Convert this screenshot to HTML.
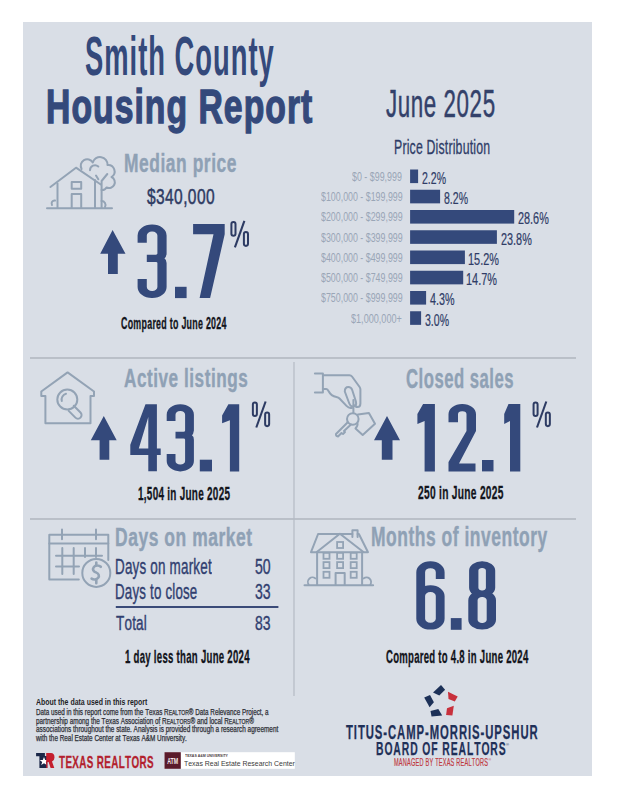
<!DOCTYPE html>
<html><head><meta charset="utf-8"><style>
html,body{margin:0;padding:0}
body{width:618px;height:800px;position:relative;overflow:hidden;background:#fff;font-family:"Liberation Sans",sans-serif}
#panel{position:absolute;left:23px;top:22px;width:569px;height:754px;background:#d9dee6}
.t{position:absolute;white-space:nowrap;transform-origin:0 0;font-kerning:none}
</style></head>
<body>
<div id="panel"></div>
<svg id="shapes" width="618" height="800" viewBox="0 0 618 800" style="position:absolute;left:0;top:0">
<g fill="none" stroke="#9ba1aa" stroke-width="1">
<line x1="30" y1="358" x2="576" y2="358"/>
<line x1="30" y1="519" x2="576" y2="519"/>
</g>
<line x1="294" y1="362" x2="294" y2="696" stroke="#b4bac4" stroke-width="1.2"/>
<!-- bars -->
<g fill="#34497b" id="bars">
<rect x="410.1" y="169.50" width="8" height="13.6"/>
<rect x="410.1" y="189.75" width="30" height="13.6"/>
<rect x="410.1" y="210.00" width="104.1" height="13.6"/>
<rect x="410.1" y="230.25" width="86.8" height="13.6"/>
<rect x="410.1" y="250.50" width="54.8" height="13.6"/>
<rect x="410.1" y="270.75" width="53.1" height="13.6"/>
<rect x="410.1" y="291.00" width="16" height="13.6"/>
<rect x="410.1" y="311.25" width="11" height="13.6"/>
</g>
<!-- arrows -->
<polygon points="112.6,230 125.5,253.8 117.8,253.8 117.8,274 108,274 108,253.8 100.2,253.8" fill="#34497b"/>
<polygon points="103.8,416 116.7,440.3 109.3,440.3 109.3,459.7 99.6,459.7 99.6,440.3 90.8,440.3" fill="#34497b"/>
<polygon points="387,416 400,440.3 392.5,440.3 392.5,459.7 381.8,459.7 381.8,440.3 374,440.3" fill="#34497b"/>
<g transform="matrix(1 0 0 0.7800 0 49.368)"><path d="M142.20 248.02 V238.70 A9.702000000000005 9.702000000000005 0 0 1 151.90 229.00 H152.30 A9.702000000000005 9.702000000000005 0 0 1 162.00 238.70 V261.86 A6 6 0 0 1 156.00 267.86 H146.80 M156.00 267.86 A6 6 0 0 1 162.00 273.86 V304.59 A9.702000000000005 9.702000000000005 0 0 1 152.30 314.29 H151.90 A9.702000000000005 9.702000000000005 0 0 1 142.20 304.59 V294.32" fill="none" stroke="#34497b" stroke-width="9.2"/></g>
<rect x="175.00" y="286.80" width="11.60" height="11.30" fill="#34497b"/>
<polygon points="193.10,224.10 224.70,224.10 224.70,234.30 210.10,298.10 199.60,298.10 213.50,234.30 193.10,234.30" fill="#34497b"/>
<rect x="231.40" y="221.90" width="4.10" height="13.80" rx="2.05" ry="2.05" fill="none" stroke="#2d3b63" stroke-width="2.0"/><rect x="243.90" y="232.10" width="4.10" height="13.80" rx="2.05" ry="2.05" fill="none" stroke="#2d3b63" stroke-width="2.0"/><line x1="244.40" y1="220.80" x2="234.90" y2="247.30" stroke="#2d3b63" stroke-width="2.1"/>
<path d="M145.50 404.30 L156.90 404.30 L156.90 448.50 L160.70 448.50 L160.70 455.10 L156.90 455.10 L156.90 471.30 L148.30 471.30 L148.30 455.10 L130.30 455.10 L130.30 444.70 Z M148.30 417.10 L148.30 448.50 L138.80 448.50 Z" fill="#34497b" fill-rule="evenodd"/>
<g transform="matrix(1 0 0 0.7800 0 88.924)"><path d="M171.10 425.74 V417.62 A9.016000000000002 9.016000000000002 0 0 1 180.12 408.60 H180.48 A9.016000000000002 9.016000000000002 0 0 1 189.50 417.62 V437.83 A6 6 0 0 1 183.50 443.83 H175.50 M183.50 443.83 A6 6 0 0 1 189.50 449.83 V476.94 A9.016000000000002 9.016000000000002 0 0 1 180.48 485.95 H180.12 A9.016000000000002 9.016000000000002 0 0 1 171.10 476.94 V467.95" fill="none" stroke="#34497b" stroke-width="8.8"/></g>
<rect x="199.80" y="459.70" width="12.20" height="11.70" fill="#34497b"/>
<polygon points="228.40,404.20 239.20,404.20 239.20,471.40 229.90,471.40 229.90,420.20 222.10,423.20 222.10,415.50" fill="#34497b"/>
<rect x="252.87" y="402.58" width="4.02" height="13.54" rx="2.01" ry="2.01" fill="none" stroke="#2d3b63" stroke-width="2.0"/><rect x="265.13" y="412.59" width="4.02" height="13.54" rx="2.01" ry="2.01" fill="none" stroke="#2d3b63" stroke-width="2.0"/><line x1="265.62" y1="401.50" x2="256.30" y2="427.50" stroke="#2d3b63" stroke-width="2.1"/>
<polygon points="423.10,404.00 434.90,404.00 434.90,471.40 424.60,471.40 424.60,421.00 417.40,424.00 417.40,414.00" fill="#34497b"/>
<g transform="matrix(1 0 0 0.7500 0 101.000)"><path d="M453.25 428.26 V417.57 A8.82 8.82 0 0 1 462.07 408.75 H462.43 A8.82 8.82 0 0 1 471.25 417.57 V439.95" fill="none" stroke="#34497b" stroke-width="9.5"/></g><polygon points="476.00,430.96 459.00,463.40 475.50,463.40 475.50,471.40 448.50,471.40 448.50,461.90 466.50,430.96" fill="#34497b"/>
<rect x="482.00" y="460.00" width="11.50" height="11.40" fill="#34497b"/>
<polygon points="508.50,404.00 520.30,404.00 520.30,471.40 510.00,471.40 510.00,421.00 504.20,424.00 504.20,414.00" fill="#34497b"/>
<rect x="533.57" y="402.58" width="4.02" height="13.54" rx="2.01" ry="2.01" fill="none" stroke="#2d3b63" stroke-width="2.0"/><rect x="545.83" y="412.59" width="4.02" height="13.54" rx="2.01" ry="2.01" fill="none" stroke="#2d3b63" stroke-width="2.0"/><line x1="546.32" y1="401.50" x2="537.00" y2="427.50" stroke="#2d3b63" stroke-width="2.1"/>
<g transform="matrix(1 0 0 0.7800 0 123.486)"><path d="M440.20 584.07 V575.25 A9.555000000000028 9.555000000000028 0 0 0 430.65 565.70 H430.25 A9.555000000000028 9.555000000000028 0 0 0 420.70 575.25 V634.91 A9.555000000000028 9.555000000000028 0 0 0 430.25 644.46 H430.65 A9.555000000000028 9.555000000000028 0 0 0 440.20 634.91 V605.88 A9.555000000000028 9.555000000000028 0 0 0 430.65 596.33 H430.25 A9.555000000000028 9.555000000000028 0 0 0 420.70 605.88" fill="none" stroke="#34497b" stroke-width="8.8"/></g>
<rect x="450.80" y="618.10" width="10.80" height="11.70" fill="#34497b"/>
<g transform="matrix(1 0 0 0.7200 0 157.164)"><path d="M473.75 574.17 A8.216000000000015 8.216000000000015 0 0 1 481.97 565.95 H482.33 A8.216000000000015 8.216000000000015 0 0 1 490.55 574.17 V598.14 A8.216000000000015 8.216000000000015 0 0 1 482.33 606.36 H481.97 A8.216000000000015 8.216000000000015 0 0 1 473.75 598.14 Z M472.95 615.38 A9.016000000000016 9.016000000000016 0 0 1 481.97 606.36 H482.33 A9.016000000000016 9.016000000000016 0 0 1 491.35 615.38 V642.50 A9.016000000000016 9.016000000000016 0 0 1 482.33 651.51 H481.97 A9.016000000000016 9.016000000000016 0 0 1 472.95 642.50 Z" fill="none" stroke="#34497b" stroke-width="9.3"/></g>
<!-- table line -->
<rect x="115.8" y="606" width="162.6" height="2" fill="#3a4a78"/>
<g fill="none" stroke="#93a3b5" stroke-width="2" stroke-linecap="round" stroke-linejoin="round">
<!-- house + tree -->
<path d="M47 208.2 H112"/>
<path d="M50.4 187 L76 167.7 L100.8 184.5"/>
<path d="M57.5 183.5 V208 M95 180 V208"/>
<rect x="71.7" y="181.9" width="9.5" height="6.9"/>
<path d="M71.7 208 V194 H81.2 V208"/>
<path d="M81.6 169 A6 6 0 0 1 92.8 162.5 A7.5 7.5 0 0 1 107.5 165 A6.5 6.5 0 0 1 111.5 177 A5.5 5.5 0 0 1 106.5 187.5 A5 5 0 0 1 101.5 190"/>
<path d="M90 170.3 A5 5 0 0 1 98.3 166.5"/>
<path d="M101.6 208 V181 L107.3 174 M96 175.5 L98.3 179.3"/>
<path d="M52 205 A3 3 0 0 1 55 200.5 M101.5 201 A4 4 0 0 1 105 207"/>
<!-- house search -->
<path d="M45.4 423.3 V396 H41.3 V391.5 L67.6 372.4 L94 391.5 V396 H90.5 V423.3 Z"/>
<circle cx="67.3" cy="399.5" r="10"/>
<path d="M61.8 401 A6 6 0 0 1 66 393.8"/>
<path d="M73.8 405.8 L80.5 412.5 A3.6 3.6 0 0 1 75.4 417.6 L68.7 410.9"/>
<!-- hand keys -->
<path d="M314.9 373.5 H322.9 V392.4 H314.9"/>
<path d="M322.9 375.2 H349.5 Q351 375.2 352 376.5 L359.6 387 Q360.4 388.2 360.4 389.5 V403.5 Q360.4 407 357.5 407 Q355.5 407 355.2 405"/>
<path d="M322.9 389 H326.3 Q327.5 389 328.8 391.5 Q331 396 336.4 397 Q338.5 397.4 339.5 398.5 L346.5 405.9 Q348.5 408 350.5 408 H352"/>
<path d="M344.8 391.5 Q344.8 387 348.3 387 Q351.2 387 352.2 390 L355.9 401.5 Q357 406 353 406.5 Q350.6 406.8 349.3 403.5 Z"/>
<path d="M353.4 400 V413"/>
<circle cx="352.8" cy="419" r="5.8"/>
<path d="M347.5 422.5 L336 434 Q335.5 436 338 436.5 L341.5 433 L343 434 L345 432 L344 431 L351 424.5"/>
<path d="M358 414.5 L368.9 413 L375 423.8 L362.7 435 L355.5 428.5 Q358 425.5 357.5 423.5"/>
<!-- calendar -->
<path d="M78.8 579.4 H49.3 V534.7 H108.3 V560"/>
<path d="M49.3 543.4 H108.3"/>
<path d="M62 529.5 V539.2 M96 529.5 V539.2"/>
<path d="M56 555.8 H102 M56 566.4 H79"/>
<path d="M62.3 548 V574 M73.7 548 V574 M85 548 V557 M96 548 V557"/>
<circle cx="96.3" cy="572.9" r="14"/>
<path d="M100.8 566.8 A4.4 3.6 0 1 0 96.3 572.6 A4.4 3.6 0 1 1 91.6 578.6 M96.3 562.5 V565.8 M96.3 579.8 V583.2" stroke-width="2.6"/>
<!-- multi house -->
<path d="M304.5 585.2 H373.1"/>
<path d="M318.1 534 H352.4 M357.6 534 H358.9 L368 552.2 H311 L318.1 534"/>
<path d="M352.4 537 V530.2 H357.6 V537"/>
<path d="M316.8 552 L339.9 533.8 L363.4 552"/>
<path d="M317.1 552 V585 M362.1 552 V585"/>
<path d="M335.6 585 V572.9 H344.7 V585"/>
</g>
<g fill="none" stroke="#93a3b5" stroke-width="1.8">
<rect x="323.5" y="552.8" width="6" height="6"/>
<rect x="337.1" y="552.8" width="6" height="6"/>
<rect x="350.7" y="552.8" width="6" height="6"/>
<rect x="323.5" y="562.1" width="6" height="6"/>
<rect x="337.1" y="562.1" width="6" height="6"/>
<rect x="350.7" y="562.1" width="6" height="6"/>
<rect x="323.5" y="571.8" width="6" height="6"/>
<rect x="350.7" y="571.8" width="6" height="6"/>
<rect x="337.1" y="542" width="6" height="6"/>
<path d="M309 585 A4 4 0 0 1 316 579 M363 579 A4 4 0 0 1 370 585"/>
</g>
<!-- TR logo -->
<path d="M36.1 753.1 H44.9 V756.3 H36.1 Z M39.4 756 H47.2 V768 H39.4 Z" fill="#1b2748"/>
<polygon points="44,757 45.2,760 48.3,760 45.8,762 46.8,765 44,763.2 41.2,765 42.2,762 39.7,760 42.8,760" fill="#ffffff"/>
<path d="M46.2 753 H51 Q54.5 753 54.5 757.5 Q54.5 760.5 52 761.5 L54.3 768 H50.6 L48.6 762 H47.5 V768 H46.2 Z" fill="#c41e2e"/>
<!-- TAMU box -->
<rect x="164.5" y="752.2" width="130.3" height="16.6" fill="#ffffff"/>
<rect x="164.5" y="752.2" width="16.3" height="16.6" fill="#5a1a2a"/>
<text x="172.7" y="763.8" font-family="Liberation Sans" font-weight="700" font-size="8.5" fill="#f3e9ec" text-anchor="middle" transform="translate(172.7 0) scale(0.62 1) translate(-172.7 0)">ATM</text>
<text x="506" y="745.5" font-family="Liberation Sans" font-size="4" fill="#1f3058">®</text>
<text x="488.5" y="760.5" font-family="Liberation Sans" font-size="3.5" fill="#c0393f">®</text>
<!-- star logo -->
<polygon points="433,692.6 441,684.9 445.1,689.7 439.3,695.5" fill="#1d3158"/>
<polygon points="424.2,697.5 430,695 433.9,702.3 429.6,707.2" fill="#1d3158"/>
<polygon points="430.5,711 438.3,709.1 442.2,715.4 431.5,716.4" fill="#1d3158"/>
<polygon points="448,691.7 457.7,696.5 454.8,701.4 448.5,698.9" fill="#c8303c"/>
<polygon points="447,708.2 453.8,705.7 452.4,715.4 446.1,715" fill="#c8303c"/>
</svg>
<div class="t" id="t_smith" style="left:85.23px;top:29.45px;font-size:54.80px;line-height:54.80px;font-weight:700;color:#34497b;transform:scaleX(0.4990);letter-spacing:2px">Smith County</div><div class="t" id="t_housing" style="left:45.77px;top:82.17px;font-size:48.70px;line-height:48.70px;font-weight:700;color:#34497b;transform:scaleX(0.6923);letter-spacing:1.5px;-webkit-text-stroke:1.4px #34497b">Housing Report</div><div class="t" id="t_june" style="left:386.02px;top:85.24px;font-size:38.52px;line-height:38.52px;font-weight:400;color:#33416a;transform:scaleX(0.5804);letter-spacing:1px;-webkit-text-stroke:0.5px #33416a">June 2025</div><div class="t" id="t_pd" style="left:393.99px;top:136.77px;font-size:20.35px;line-height:20.35px;font-weight:400;color:#2f3c66;transform:scaleX(0.6045);letter-spacing:0.3px;-webkit-text-stroke:0.3px #2f3c66">Price Distribution</div><div class="t" id="t_lab0" style="left:351.97px;top:170.95px;font-size:12.94px;line-height:12.94px;font-weight:400;color:#9aa6b7;transform:scaleX(0.6868);">$0 - $99,999</div><div class="t" id="t_pct0" style="left:421.97px;top:170.96px;font-size:15.99px;line-height:15.99px;font-weight:400;color:#2f3c66;transform:scaleX(0.6603);-webkit-text-stroke:0.2px #2f3c66">2.2%</div><div class="t" id="t_lab1" style="left:320.95px;top:191.20px;font-size:12.94px;line-height:12.94px;font-weight:400;color:#9aa6b7;transform:scaleX(0.6840);">$100,000 - $199,999</div><div class="t" id="t_pct1" style="left:443.97px;top:191.21px;font-size:15.99px;line-height:15.99px;font-weight:400;color:#2f3c66;transform:scaleX(0.6603);-webkit-text-stroke:0.2px #2f3c66">8.2%</div><div class="t" id="t_lab2" style="left:320.95px;top:211.45px;font-size:12.94px;line-height:12.94px;font-weight:400;color:#9aa6b7;transform:scaleX(0.6840);">$200,000 - $299,999</div><div class="t" id="t_pct2" style="left:517.93px;top:211.46px;font-size:15.99px;line-height:15.99px;font-weight:400;color:#2f3c66;transform:scaleX(0.6800);-webkit-text-stroke:0.2px #2f3c66">28.6%</div><div class="t" id="t_lab3" style="left:320.95px;top:231.70px;font-size:12.94px;line-height:12.94px;font-weight:400;color:#9aa6b7;transform:scaleX(0.6840);">$300,000 - $399,999</div><div class="t" id="t_pct3" style="left:500.93px;top:231.71px;font-size:15.99px;line-height:15.99px;font-weight:400;color:#2f3c66;transform:scaleX(0.6800);-webkit-text-stroke:0.2px #2f3c66">23.8%</div><div class="t" id="t_lab4" style="left:320.95px;top:251.95px;font-size:12.94px;line-height:12.94px;font-weight:400;color:#9aa6b7;transform:scaleX(0.6840);">$400,000 - $499,999</div><div class="t" id="t_pct4" style="left:467.83px;top:251.96px;font-size:15.99px;line-height:15.99px;font-weight:400;color:#2f3c66;transform:scaleX(0.6825);-webkit-text-stroke:0.2px #2f3c66">15.2%</div><div class="t" id="t_lab5" style="left:320.95px;top:272.20px;font-size:12.94px;line-height:12.94px;font-weight:400;color:#9aa6b7;transform:scaleX(0.6840);">$500,000 - $749,999</div><div class="t" id="t_pct5" style="left:465.83px;top:272.21px;font-size:15.99px;line-height:15.99px;font-weight:400;color:#2f3c66;transform:scaleX(0.6825);-webkit-text-stroke:0.2px #2f3c66">14.7%</div><div class="t" id="t_lab6" style="left:320.95px;top:292.45px;font-size:12.94px;line-height:12.94px;font-weight:400;color:#9aa6b7;transform:scaleX(0.6840);">$750,000 - $999,999</div><div class="t" id="t_pct6" style="left:429.97px;top:292.46px;font-size:15.99px;line-height:15.99px;font-weight:400;color:#2f3c66;transform:scaleX(0.6735);-webkit-text-stroke:0.2px #2f3c66">4.3%</div><div class="t" id="t_lab7" style="left:350.99px;top:312.70px;font-size:12.94px;line-height:12.94px;font-weight:400;color:#9aa6b7;transform:scaleX(0.7027);">$1,000,000+</div><div class="t" id="t_pct7" style="left:425.03px;top:312.71px;font-size:15.99px;line-height:15.99px;font-weight:400;color:#2f3c66;transform:scaleX(0.6601);-webkit-text-stroke:0.2px #2f3c66">3.0%</div><div class="t" id="t_median" style="left:123.81px;top:150.97px;font-size:25.44px;line-height:25.44px;font-weight:700;color:#8fa1b5;transform:scaleX(0.6847);letter-spacing:0.8px;-webkit-text-stroke:0.4px #8fa1b5">Median price</div><div class="t" id="t_340" style="left:146.90px;top:185.26px;font-size:22.97px;line-height:22.97px;font-weight:400;color:#2e3a62;transform:scaleX(0.6754);letter-spacing:0.6px;-webkit-text-stroke:0.5px #2e3a62">$340,000</div><div class="t" id="t_cmp1" style="left:121.00px;top:316.26px;font-size:15.99px;line-height:15.99px;font-weight:700;color:#12141b;transform:scaleX(0.5539);letter-spacing:0.5px;-webkit-text-stroke:0.3px #12141b">Compared to June 2024</div><div class="t" id="t_active" style="left:123.93px;top:365.52px;font-size:25.73px;line-height:25.73px;font-weight:700;color:#8fa1b5;transform:scaleX(0.6669);letter-spacing:0.8px;-webkit-text-stroke:0.4px #8fa1b5">Active listings</div><div class="t" id="t_1504" style="left:138.03px;top:485.53px;font-size:17.44px;line-height:17.44px;font-weight:700;color:#12141b;transform:scaleX(0.5690);letter-spacing:0.5px;-webkit-text-stroke:0.3px #12141b">1,504 in June 2025</div><div class="t" id="t_closed" style="left:405.99px;top:364.74px;font-size:27.47px;line-height:27.47px;font-weight:700;color:#8fa1b5;transform:scaleX(0.6083);letter-spacing:0.8px;-webkit-text-stroke:0.4px #8fa1b5">Closed sales</div><div class="t" id="t_250" style="left:418.01px;top:485.47px;font-size:17.44px;line-height:17.44px;font-weight:700;color:#12141b;transform:scaleX(0.5850);letter-spacing:0.5px;-webkit-text-stroke:0.3px #12141b">250 in June 2025</div><div class="t" id="t_dom" style="left:114.92px;top:524.98px;font-size:25.29px;line-height:25.29px;font-weight:700;color:#8fa1b5;transform:scaleX(0.6902);letter-spacing:0.8px;-webkit-text-stroke:0.4px #8fa1b5">Days on market</div><div class="t" id="t_r1" style="left:115.01px;top:556.11px;font-size:21.22px;line-height:21.22px;font-weight:400;color:#313f70;transform:scaleX(0.6337);letter-spacing:0.3px;-webkit-text-stroke:0.4px #313f70">Days on market</div><div class="t" id="t_r1v" style="left:255.00px;top:556.31px;font-size:21.22px;line-height:21.22px;font-weight:400;color:#313f70;transform:scaleX(0.6622);-webkit-text-stroke:0.4px #313f70">50</div><div class="t" id="t_r2" style="left:115.01px;top:580.63px;font-size:21.22px;line-height:21.22px;font-weight:400;color:#313f70;transform:scaleX(0.6283);letter-spacing:0.3px;-webkit-text-stroke:0.4px #313f70">Days to close</div><div class="t" id="t_r2v" style="left:255.00px;top:580.63px;font-size:21.22px;line-height:21.22px;font-weight:400;color:#313f70;transform:scaleX(0.6622);-webkit-text-stroke:0.4px #313f70">33</div><div class="t" id="t_r3" style="left:116.01px;top:612.46px;font-size:21.08px;line-height:21.08px;font-weight:400;color:#313f70;transform:scaleX(0.6414);letter-spacing:0.3px;-webkit-text-stroke:0.4px #313f70">Total</div><div class="t" id="t_r3v" style="left:255.00px;top:612.46px;font-size:21.08px;line-height:21.08px;font-weight:400;color:#313f70;transform:scaleX(0.6622);-webkit-text-stroke:0.4px #313f70">83</div><div class="t" id="t_less" style="left:125.03px;top:649.09px;font-size:17.73px;line-height:17.73px;font-weight:700;color:#12141b;transform:scaleX(0.5424);letter-spacing:0.5px;-webkit-text-stroke:0.3px #12141b">1 day less than June 2024</div><div class="t" id="t_months" style="left:370.92px;top:524.25px;font-size:26.74px;line-height:26.74px;font-weight:700;color:#8fa1b5;transform:scaleX(0.6530);letter-spacing:0.8px;-webkit-text-stroke:0.4px #8fa1b5">Months of inventory</div><div class="t" id="t_cmp2" style="left:386.00px;top:648.51px;font-size:17.59px;line-height:17.59px;font-weight:700;color:#12141b;transform:scaleX(0.5436);letter-spacing:0.5px;-webkit-text-stroke:0.3px #12141b">Compared to 4.8 in June 2024</div><div class="t" id="t_about" style="left:36.00px;top:697.76px;font-size:8.72px;line-height:8.72px;font-weight:700;color:#1d1f26;transform:scaleX(0.7982);">About the data used in this report</div><div class="t" id="t_f1" style="left:36.00px;top:709.25px;font-size:8.14px;line-height:8.14px;font-weight:400;color:#2e3037;transform:scaleX(0.7770);-webkit-text-stroke:0.25px #2e3037">Data used in this report come from the Texas R<span style="font-size:80%">EALTOR</span>® Data Relevance Project, a</div><div class="t" id="t_f2" style="left:36.00px;top:717.51px;font-size:8.14px;line-height:8.14px;font-weight:400;color:#2e3037;transform:scaleX(0.7843);-webkit-text-stroke:0.25px #2e3037">partnership among the Texas Association of R<span style="font-size:80%">EALTORS</span>® and local R<span style="font-size:80%">EALTOR</span>®</div><div class="t" id="t_f3" style="left:36.00px;top:725.91px;font-size:8.14px;line-height:8.14px;font-weight:400;color:#2e3037;transform:scaleX(0.7887);-webkit-text-stroke:0.25px #2e3037">associations throughout the state. Analysis is provided through a research agreement</div><div class="t" id="t_f4" style="left:35.72px;top:735.01px;font-size:8.14px;line-height:8.14px;font-weight:400;color:#2e3037;transform:scaleX(0.7841);-webkit-text-stroke:0.25px #2e3037">with the Real Estate Center at Texas A&amp;M University.</div><div class="t" id="t_txr" style="left:59.00px;top:754.00px;font-size:17.01px;line-height:17.01px;font-weight:700;color:#b31f2e;transform:scaleX(0.5815);letter-spacing:0.6px;-webkit-text-stroke:0.3px #b31f2e">TEXAS REALTORS</div><div class="t" id="t_tamu_s" style="left:184.64px;top:755.37px;font-size:3.34px;line-height:3.34px;font-weight:700;color:#4a3a3e;transform:scaleX(1.0607);">TEXAS A&amp;M UNIVERSITY</div><div class="t" id="t_tamu" style="left:183.83px;top:759.83px;font-size:7.99px;line-height:7.99px;font-weight:400;color:#3a3a3a;transform:scaleX(0.8675);">Texas Real Estate Research Center</div><div class="t" id="t_titus" style="left:346.00px;top:723.05px;font-size:19.33px;line-height:19.33px;font-weight:700;color:#1f3058;transform:scaleX(0.5847);letter-spacing:1.6px;-webkit-text-stroke:0.25px #1f3058">TITUS-CAMP-MORRIS-UPSHUR</div><div class="t" id="t_board" style="left:375.95px;top:740.28px;font-size:18.31px;line-height:18.31px;font-weight:700;color:#1f3058;transform:scaleX(0.5664);letter-spacing:1.6px;-webkit-text-stroke:0.25px #1f3058">BOARD OF REALTORS</div><div class="t" id="t_managed" style="left:394.03px;top:756.95px;font-size:10.61px;line-height:10.61px;font-weight:400;color:#c0393f;transform:scaleX(0.5271);letter-spacing:0.4px;-webkit-text-stroke:0.2px #c0393f">MANAGED BY TEXAS REALTORS</div>
</body></html>
